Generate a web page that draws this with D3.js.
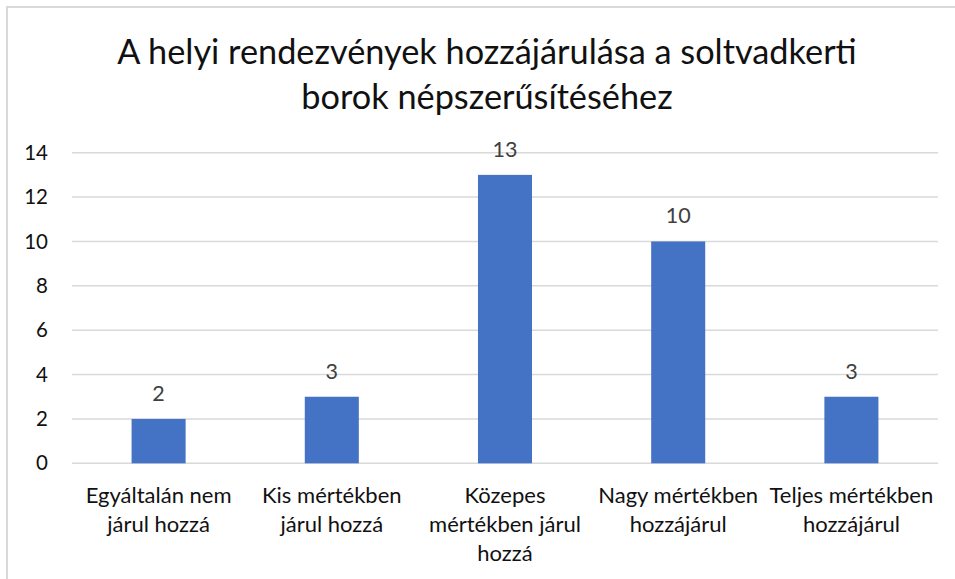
<!DOCTYPE html>
<html>
<head>
<meta charset="utf-8">
<script src="https://cdn.jsdelivr.net/npm/d3@7"></script>
<style>
  html, body { margin: 0; padding: 0; background: #fff; }
  svg { display: block; font-family: Lato, "Open Sans", sans-serif; }
</style>
</head>
<body>
<svg width="955" height="579"></svg>
<script>
// chart data
var titleLines = ['A helyi rendezvények hozzájárulása a soltvadkerti', 'borok népszerűsítéséhez'];
var categories = ['Egyáltalán nem járul hozzá', 'Kis mértékben járul hozzá', 'Közepes mértékben járul hozzá', 'Nagy mértékben hozzájárul', 'Teljes mértékben hozzájárul'];
var values = [2, 3, 13, 10, 3];
var yTicks = [0, 2, 4, 6, 8, 10, 12, 14];

var svg = d3.select('svg');

var plotLeft = 72, plotRight = 938, plotTop = 152.7, plotBottom = 463.3;

// chart frame (right / bottom edges are cut off in the picture)
svg.append('rect')
    .attr('x', 7).attr('y', 7)
    .attr('width', 1000).attr('height', 1000)
    .attr('fill', 'none')
    .attr('stroke', '#d9d9d9')
    .attr('stroke-width', 2);

// title
svg.append('text')
    .attr('text-anchor', 'middle')
    .attr('font-size', 34.3)
    .attr('fill', '#111')
    .selectAll('tspan')
    .data(titleLines)
    .enter().append('tspan')
      .attr('x', 487)
      .attr('y', function(d, i) { return 64 + i * 45; })
      .text(function(d) { return d; });

var x = d3.scaleBand()
    .domain(categories)
    .range([plotLeft, plotRight])
    .paddingInner(0.688)
    .paddingOuter(0.344);

var y = d3.scaleLinear()
    .domain([0, 14])
    .range([plotBottom, plotTop]);

// gridlines
svg.append('g')
    .selectAll('line')
    .data(yTicks)
    .enter().append('line')
      .attr('x1', plotLeft).attr('x2', plotRight)
      .attr('y1', function(d) { return y(d); })
      .attr('y2', function(d) { return y(d); })
      .attr('stroke', '#d9d9d9')
      .attr('stroke-width', 1.5);

// y axis labels
var yAxis = svg.append('g')
    .attr('transform', 'translate(48,0)')
    .call(d3.axisLeft(y).tickValues(yTicks).tickSize(0).tickPadding(0));
yAxis.select('.domain').remove();
yAxis.selectAll('text')
    .attr('font-family', 'Lato, sans-serif')
    .attr('font-size', 20.5)
    .attr('fill', '#111');

// bars
svg.append('g')
    .selectAll('rect')
    .data(values)
    .enter().append('rect')
      .attr('x', function(d, i) { return x(categories[i]); })
      .attr('y', function(d) { return y(d); })
      .attr('width', x.bandwidth())
      .attr('height', function(d) { return y(0) - y(d); })
      .attr('fill', '#4472c4');

// value labels
svg.append('g')
    .selectAll('text')
    .data(values)
    .enter().append('text')
      .attr('x', function(d, i) { return x(categories[i]) + x.bandwidth() / 2; })
      .attr('y', function(d) { return y(d) - 18; })
      .attr('text-anchor', 'middle')
      .attr('font-size', 21.5)
      .attr('fill', '#404040')
      .text(function(d) { return d; });

// x axis labels, wrapped to the band step
var xAxis = svg.append('g')
    .attr('transform', 'translate(0,' + plotBottom + ')')
    .call(d3.axisBottom(x).tickSize(0).tickPadding(0));
xAxis.select('.domain').remove();
xAxis.selectAll('text')
    .attr('font-family', 'Lato, sans-serif')
    .attr('font-size', 22)
    .attr('fill', '#111')
    .attr('dy', null)
    .attr('y', 0)
    .call(wrap, x.step() - 4);

function wrap(texts, maxW) {
  texts.each(function() {
    var text = d3.select(this),
        words = text.text().split(/\s+/),
        line = [],
        lineNo = 0,
        tspan = text.text(null).append('tspan').attr('x', 0).attr('y', 40);
    words.forEach(function(w) {
      line.push(w);
      tspan.text(line.join(' '));
      if (tspan.node().getComputedTextLength() > maxW && line.length > 1) {
        line.pop();
        tspan.text(line.join(' '));
        line = [w];
        lineNo += 1;
        tspan = text.append('tspan').attr('x', 0).attr('y', 40 + lineNo * 28.7).text(w);
      }
    });
  });
}
</script>
</body>
</html>
